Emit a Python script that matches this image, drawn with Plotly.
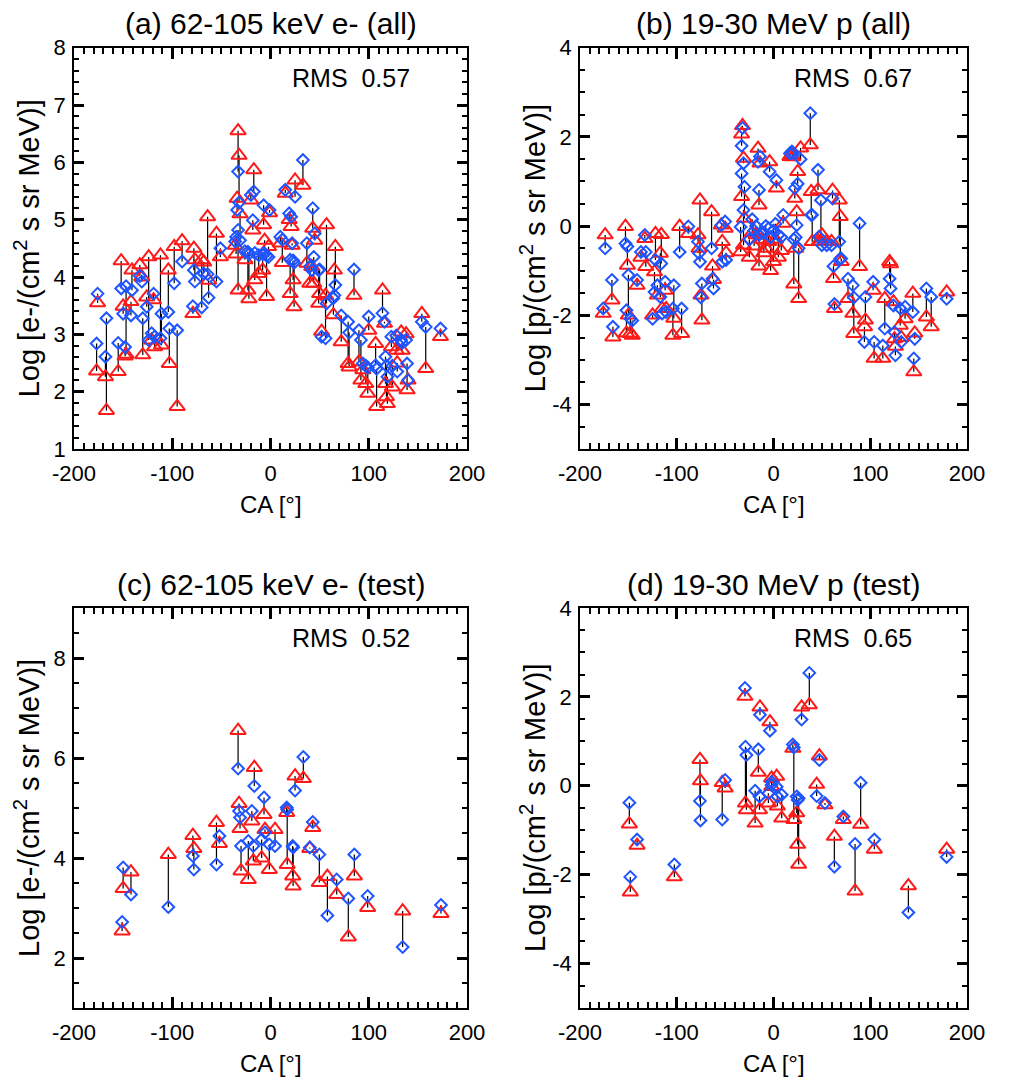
import plotly.graph_objects as go

# ---------------- data ----------------
# Panel (a): 62-105 keV electrons, all events  (CA [deg], observed (red), model (blue))
ca_a = [-176, -177, -168, -167, -155, -152, -150, -148, -147, -141, -142, -133, -131, -130,
        -124, -119, -126, -121, -118, -112, -111, -104, -103, -95, -98, -90, -78, -77, -79,
        -70, -68, -64, -63, -55, -51,
        -33, -32, -34, -31, -33, -35, -36, -22, -17, -20, -18, -7, -1, -6, -2, -4, -8, -12,
        -16, -23, -26, 10, 12, 15, 25, 33, 19, 21, 22, 23, 24, 20, 43, 45, 44, 42, 57, 66,
        65, 49, 37, 40,
        50, 56, 52, 64, 72, 79, 80, 85, 90, 92, 94, 97, 99, 100, 108, 107, 114, 116, 117,
        118, 119, 123, 124, 128, 129, 133, 134, 138, 139, 140, 154, 158, 173]
obs_a = [3.55, 2.36, 2.26, 1.67, 2.35, 4.28, 3.49, 2.62, 2.65, 4.12, 3.57, 4.21, 4.00, 2.64,
         4.35, 3.60, 3.65, 2.90, 2.78, 4.38, 2.81, 4.12, 2.49, 1.74, 4.53, 4.63, 4.50, 4.30, 3.36,
         4.30, 4.26, 5.05, 3.94, 4.76, 4.35,
         6.55, 6.12, 5.37, 5.10, 3.77, 4.40, 4.55, 3.62, 5.87, 5.34, 4.82, 4.91, 5.12, 4.64, 4.53, 3.66, 4.12, 4.06,
         3.95, 3.77, 4.30, 4.59, 4.25, 5.46, 5.69, 5.60, 5.00, 4.88, 4.55, 3.95, 3.48, 3.71, 4.85, 4.64, 3.89, 4.18, 4.91, 4.53,
         4.12, 3.54, 4.24, 3.89,
         3.71, 3.68, 3.05, 3.34, 2.87, 2.49, 2.43, 3.68, 2.52, 2.20, 2.38, 2.14, 1.97, 3.07, 1.74, 2.84, 3.77, 3.19, 2.14,
         1.91, 1.79, 2.78, 2.08, 2.72, 2.50, 3.04, 2.72, 3.01, 2.03, 2.20, 3.36, 2.40, 2.96]
model_a = [3.71, 2.84, 2.61, 3.28, 2.85, 3.80, 3.36, 2.78, 3.84, 3.77, 3.33, 4.02, 3.92, 3.28,
           2.90, 3.71, 3.48, 3.02, 2.96, 2.93, 3.36, 3.39, 3.10, 3.07, 3.89, 4.27, 4.12, 3.92, 3.49,
           3.47, 4.06, 4.05, 3.64, 3.92, 4.50,
           5.84, 5.30, 5.17, 4.64, 4.82, 4.70, 4.62, 4.40, 5.49, 5.43, 4.99, 5.25, 5.17, 4.41, 4.35, 4.37, 4.40, 4.38,
           4.42, 4.44, 4.45, 4.70, 4.65, 5.52, 5.40, 6.04, 5.11, 5.05, 4.59, 4.29, 4.25, 4.30, 5.20, 4.76, 4.35, 4.12, 3.54, 3.86,
           3.68, 4.12, 4.59, 4.18,
           4.13, 2.93, 2.96, 3.63, 3.33, 3.22, 3.03, 4.13, 3.07, 2.90, 2.49, 2.45, 2.42, 3.31, 2.40, 2.46, 3.37, 3.22, 2.61,
           2.45, 2.26, 2.96, 2.45, 2.98, 2.35, 2.90, 2.85, 2.90, 2.49, 2.20, 3.22, 3.13, 3.10]

# Panel (b): 19-30 MeV protons, all events
ca_b = [-174, -176, -167, -166, -153, -151, -150, -152, -148, -146, -141, -133, -132, -137,
        -122, -123, -116, -117, -115, -112, -111, -120, -125, -103, -104, -95, -97, -88,
        -76, -78, -77, -75, -74, -64, -63, -62, -54, -53,
        -50, -49, -32, -31, -33, -30, -31, -34, -33, -16, -15, -14, -4, 3,
        -20, -15, -10, -5, 0, -8, 5, -12, -18, 2, -3, 8, -25, -22,
        10, 17, 19, 20, 25, 22, 24, 23, 21, 26, 38, 28, 39, 40, 46, 47, 55,
        61, 62, 63, 60, 49, 50, 68, 69, 70, 89, 77, 82, 83, 95, 94, 103, 104, 113, 115,
        120, 121, 124, 125, 126, 131, 132, 136, 144, 145, 146, 158, 163, 179]
obs_b = [-0.20, -1.96, -1.66, -2.49, -0.01, -0.88, -2.00, -2.40, -2.41, -2.45, -1.33, -0.28, -0.91, -0.70,
         -0.17, -1.03, -0.19, -0.61, -1.85, -1.44, -1.85, -1.55, -2.00, -2.07, -2.45, -2.41, -0.01, -0.17,
         0.58, -0.20, -0.50, -1.55, -2.11, 0.32, -0.90, -1.20, 0.02, -0.35,
         -0.05, -0.60, 2.25, 1.52, 0.66, 0.17, -0.43, -0.58, 2.06, 1.74, 0.47, 1.41, 1.44, 0.85,
         -0.45, -0.90, -0.60, -0.35, -0.80, -0.50, -0.70, -0.30, -0.20, -0.30, -1.00, -0.55, -0.70, -0.15,
         0.06, 1.56, 1.60, 1.55, 1.22, 0.62, 0.32, -0.50, -1.30, -1.63, 1.82, 1.75, 0.77, -0.35, 0.81, -0.35, -0.35,
         0.80, -1.18, -1.85, -0.35, -0.35, -0.20, 0.58, 0.21, -0.80, -0.91, -1.63, -1.96, -2.41, -2.11, -2.26, -1.44, -2.97, -2.97, -1.63,
         -0.80, -0.85, -1.70, -2.53, -2.70, -2.23, -2.50, -2.08, -1.51, -3.27, -2.40, -2.04, -2.26, -1.48]
model_b = [-0.50, -1.85, -1.21, -2.26, -0.39, -0.46, -1.10, -1.89, -2.08, -2.12, -1.21, -0.20, -0.58, -0.58,
           -0.76, -1.48, -0.84, -1.59, -1.96, -1.25, -1.93, -1.33, -2.08, -1.33, -1.85, -1.85, -0.58, -0.01,
           -0.80, -0.35, -0.61, -1.60, -1.29, -0.50, -1.18, -1.40, 0.02, -0.80,
           0.10, -0.76, 2.20, 1.41, 1.18, 0.88, 0.36, -0.02, 1.80, 1.44, 0.81, 1.56, 1.22, 1.03,
           -0.10, -0.20, -0.15, -0.05, -0.10, 0.00, -0.20, -0.15, 0.00, 0.05, -0.25, -0.25, -0.30, 0.15,
           0.25, 1.63, 1.67, 1.65, 0.95, 0.85, 0.02, -0.25, -0.30, -0.50, 2.53, 1.50, 0.25, 0.25, 1.26, -0.24, -0.43,
           0.62, -0.90, -1.75, -0.43, 0.58, -0.43, -0.35, -0.73, -0.73, 0.06, -1.18, -1.33, -1.60, -1.59, -2.60, -1.25, -2.60, -2.68, -2.30,
           -1.18, -1.40, -1.78, -2.38, -2.90, -1.85, -2.60, -1.81, -1.93, -2.97, -2.53, -1.40, -1.59, -1.63]

# Panel (c): 62-105 keV electrons, test events
ca_c = [-150, -151, -142, -104, -79, -78, -55, -52, -33, -32, -31, -30, -16.5, -19, -6.6,
        -22.6, -17.5, -5.6, -9, -1.2, 4.6, 16.5, 17, 22.6, 23, 25, 33.4, 43, 40, 49.7,
        57.9, 67.4, 79.2, 85.3, 98.9, 134.5, 173.5]
obs_c = [3.39, 2.54, 3.72, 4.07, 4.45, 4.19, 4.71, 4.29, 6.55, 5.09, 4.59, 3.74, 5.81, 4.74, 4.87,
         3.57, 3.94, 4.57, 4.00, 3.77, 4.57, 4.91, 3.87, 3.64, 3.44, 5.64, 5.59, 4.61, 4.19, 3.51,
         3.63, 3.27, 2.42, 3.64, 3.01, 2.94, 2.89]
model_c = [3.81, 2.72, 3.27, 3.02, 4.04, 3.77, 3.87, 4.44, 5.79, 4.94, 4.81, 4.24, 5.44, 4.94, 5.21,
           4.34, 4.24, 4.51, 4.37, 4.27, 4.24, 5.01, 4.97, 4.24, 4.21, 5.35, 6.02, 4.72, 4.21, 4.07,
           2.85, 3.57, 3.19, 4.07, 3.24, 2.22, 3.06]

# Panel (d): 19-30 MeV protons, test events
ca_d = [-149, -141, -148, -102.5, -76, -75.5, -53, -50, -29.5, -29, -28, -15.7, -14, -3.7,
        -19, -14.5, -1.9, -5.3, -2, 3.3, 4, 8.5, 20, 21, 24, 25, 26, 29, 37, 47.4, 44.6,
        53.2, 62.9, 72.2, 84.3, 90.1, 104.2, 139.4, 179]
obs_d = [-0.86, -1.34, -2.39, -2.05, 0.59, 0.11, 0.07, -0.05, 2.01, -0.39, -0.54, 0.30, 1.77, 1.44,
         -0.84, -0.54, -0.02, -0.39, 0.17, 0.21, -0.46, -0.73, 0.84, -0.76, -0.61, -1.32, -1.77, 1.77, 1.82, 0.67, 0.03,
         -0.43, -1.14, -0.76, -2.37, -0.87, -1.43, -2.25, -1.43]
model_d = [-0.38, -1.21, -2.05, -1.77, -0.34, -0.78, -0.76, 0.13, 2.20, 0.88, 0.69, 0.82, 1.60, 1.24,
           -0.11, -0.24, 0.09, -0.17, 0.02, -0.02, -0.24, -0.20, 0.93, 0.86, -0.24, -0.32, -0.28, 1.49, 2.54, 0.58, -0.23,
           -0.39, -1.82, -0.69, -1.31, 0.07, -1.21, -2.85, -1.60]

titles = ["(a) 62-105 keV e- (all)", "(b) 19-30 MeV p (all)",
          "(c) 62-105 keV e- (test)", "(d) 19-30 MeV p (test)"]
rms_values = ["0.57", "0.67", "0.52", "0.65"]
ytitles = ["Log [e-/(cm<sup>2</sup> s sr MeV)]", "Log [p/(cm<sup>2</sup> s sr MeV)]",
           "Log [e-/(cm<sup>2</sup> s sr MeV)]", "Log [p/(cm<sup>2</sup> s sr MeV)]"]
xtitle = "CA [°]"

# tick labels (hyphen minus as in the original)
x_tickvals = [-200, -100, 0, 100, 200]
x_ticktext = ["-200", "-100", "0", "100", "200"]
ya_tickvals = [1, 2, 3, 4, 5, 6, 7, 8]
ya_ticktext = ["1", "2", "3", "4", "5", "6", "7", "8"]
yc_tickvals = [2, 4, 6, 8]
yc_ticktext = ["2", "4", "6", "8"]
yp_tickvals = [-4, -2, 0, 2, 4]
yp_ticktext = ["-4", "-2", "0", "2", "4"]

# ---------------- figure ----------------
W, H = 1009, 1084
OFF = 8  # page body margin
FONT = "Liberation Sans, Arial, Helvetica, sans-serif"
RED = "#ff1a1a"
BLUE = "#1f55ff"

fig = go.Figure()

panels = [
    (ca_a, obs_a, model_a, "x", "y"),
    (ca_b, obs_b, model_b, "x2", "y2"),
    (ca_c, obs_c, model_c, "x3", "y3"),
    (ca_d, obs_d, model_d, "x4", "y4"),
]

for ca, obs, mod, xa, ya in panels:
    lx, ly = [], []
    for c, o, m in zip(ca, obs, mod):
        lx += [c, c, None]
        ly += [o, m, None]
    fig.add_trace(go.Scatter(x=lx, y=ly, mode="lines",
                             line=dict(color="black", width=1.2),
                             xaxis=xa, yaxis=ya, hoverinfo="skip", showlegend=False))
    fig.add_trace(go.Scatter(x=ca, y=obs, mode="markers",
                             marker=dict(symbol="triangle-up-open", size=13.5, color=RED,
                                         line=dict(width=2, color=RED)),
                             xaxis=xa, yaxis=ya, showlegend=False))
    fig.add_trace(go.Scatter(x=ca, y=mod, mode="markers",
                             marker=dict(symbol="diamond-open", size=9, color=BLUE,
                                         line=dict(width=2, color=BLUE)),
                             xaxis=xa, yaxis=ya, showlegend=False))

# screen-pixel boxes of plot areas
xl_px = (74, 467)
xr_px = (580, 967)
yt_px = (47.7, 449)
yb_px = (608, 1008)


def px_x(p):
    return (p - OFF) / W


def px_y(p):
    return 1 - (p - OFF) / H


def xd(px):
    return [px_x(px[0]), px_x(px[1])]


def yd(px):
    return [px_y(px[1]), px_y(px[0])]


tickfont = dict(family=FONT, size=22, color="black")


def xaxis_cfg(dom, anchor):
    return dict(domain=dom, anchor=anchor, range=[-200, 200],
                tickmode="array", tickvals=x_tickvals, ticktext=x_ticktext,
                ticks="inside", ticklen=11, tickwidth=2.5, tickcolor="#000000",
                showline=True, linecolor="black", linewidth=1.6, mirror="ticks",
                showgrid=False, zeroline=False, tickfont=tickfont, automargin=False,
                ticklabelstandoff=4,
                minor=dict(tickmode="linear", tick0=0, dtick=10, ticks="inside", ticklen=6,
                           tickwidth=2, tickcolor="#000000", showgrid=False))


def yaxis_cfg(dom, anchor, rng, tv, tt, step):
    return dict(domain=dom, anchor=anchor, range=rng,
                tickmode="array", tickvals=tv, ticktext=tt,
                ticks="inside", ticklen=10, tickwidth=2.5, tickcolor="#000000",
                showline=True, linecolor="black", linewidth=1.6, mirror="ticks",
                showgrid=False, zeroline=False, tickfont=tickfont, automargin=False,
                ticklabelstandoff=2,
                minor=dict(tickmode="linear", tick0=0, dtick=step, ticks="inside", ticklen=5,
                           tickwidth=2, tickcolor="#000000", showgrid=False))


fig.update_layout(
    width=W, height=H,
    margin=dict(l=0, r=0, t=0, b=0, autoexpand=False),
    paper_bgcolor="white", plot_bgcolor="white",
    font=dict(family=FONT, color="black"),
    xaxis=xaxis_cfg(xd(xl_px), "y"),
    yaxis=yaxis_cfg(yd(yt_px), "x", [1, 8], ya_tickvals, ya_ticktext, 0.2),
    xaxis2=xaxis_cfg(xd(xr_px), "y2"),
    yaxis2=yaxis_cfg(yd(yt_px), "x2", [-5, 4], yp_tickvals, yp_ticktext, 0.5),
    xaxis3=xaxis_cfg(xd(xl_px), "y3"),
    yaxis3=yaxis_cfg(yd(yb_px), "x3", [1, 9], yc_tickvals, yc_ticktext, 0.5),
    xaxis4=xaxis_cfg(xd(xr_px), "y4"),
    yaxis4=yaxis_cfg(yd(yb_px), "x4", [-5, 4], yp_tickvals, yp_ticktext, 0.5),
)

boxes = [(xl_px, yt_px), (xr_px, yt_px), (xl_px, yb_px), (xr_px, yb_px)]
ann = []
for (xp, yp), t, r, yt in zip(boxes, titles, rms_values, ytitles):
    cx = (xp[0] + xp[1]) / 2
    cy = (yp[0] + yp[1]) / 2
    ann.append(dict(text=t, x=px_x(cx), y=px_y(yp[0] - 24), xref="paper", yref="paper",
                    xanchor="center", yanchor="middle", showarrow=False,
                    font=dict(family=FONT, size=30, color="black")))
    ann.append(dict(text="RMS  " + r, x=px_x(xp[0] + 0.705 * (xp[1] - xp[0])),
                    y=px_y(yp[0] + 30), xref="paper", yref="paper",
                    xanchor="center", yanchor="middle", showarrow=False,
                    font=dict(family=FONT, size=25, color="black")))
    ann.append(dict(text=yt, x=px_x(xp[0] - 47), y=px_y(cy), xref="paper", yref="paper",
                    xanchor="center", yanchor="middle", showarrow=False, textangle=-90,
                    font=dict(family=FONT, size=29, color="black")))
    ann.append(dict(text=xtitle, x=px_x(cx), y=px_y(yp[1] + 55), xref="paper", yref="paper",
                    xanchor="center", yanchor="middle", showarrow=False,
                    font=dict(family=FONT, size=24, color="black")))
fig.update_layout(annotations=ann)

fig.write_html("out.html")
